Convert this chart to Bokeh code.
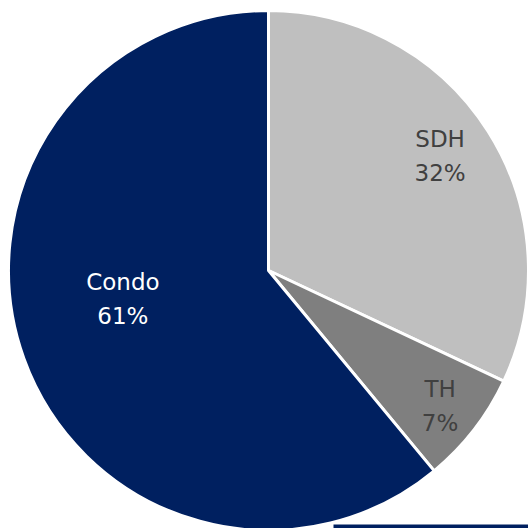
import math
from bokeh.plotting import figure
from bokeh.models import ColumnDataSource, Range1d, BoxAnnotation
from bokeh.core.properties import value
from bokeh.embed import file_html
from bokeh.resources import INLINE

# data
categories = ["SDH", "TH", "Condo"]
shares = [32, 7, 61]
colors = ["#BFBFBF", "#7F7F7F", "#002060"]
label_colors = ["#404040", "#404040", "#FFFFFF"]

# layout for labels (data units, radius = 1)
label_x = [0.66, 0.66, -0.56]
label_y = [0.44, -0.52, -0.11]

total = sum(shares)
starts, ends = [], []
cum = 0.0
for s in shares:
    starts.append(math.pi / 2 - cum / total * 2 * math.pi)
    cum += s
    ends.append(math.pi / 2 - cum / total * 2 * math.pi)

src = ColumnDataSource(dict(cat=categories, share=shares, color=colors,
                            start=starts, end=ends))

W = H = 528
R = 260.0
CX, CY = 268.0, 270.0
p = figure(width=W, height=H, output_backend="svg", toolbar_location=None,
           min_border=0,
           x_range=Range1d(-CX / R, (W - CX) / R),
           y_range=Range1d(-(H - CY) / R, CY / R))
p.axis.visible = False
p.grid.visible = False
p.outline_line_color = None
p.background_fill_color = "white"

p.wedge(x=0, y=0, radius=1.0, start_angle="start", end_angle="end",
        direction="clock", fill_color="color", line_color="white",
        line_width=3, source=src)

labels = [f"{c}\n{s}%" for c, s in zip(categories, shares)]
lsrc = ColumnDataSource(dict(x=label_x, y=label_y, text=labels, color=label_colors))
p.text(x="x", y="y", text="text", text_color="color", source=lsrc,
       text_font=value("DejaVu Sans"), text_font_size="23px",
       text_align="center", text_baseline="middle", text_line_height=1.3)

# thin navy rule at the bottom right edge
p.add_layout(BoxAnnotation(left=0.25, right=1.2, bottom=-1.2, top=-0.977,
                           fill_color="#002060", fill_alpha=1.0, line_color=None))

html = file_html(p, INLINE)
open("out.html", "w").write(html)
